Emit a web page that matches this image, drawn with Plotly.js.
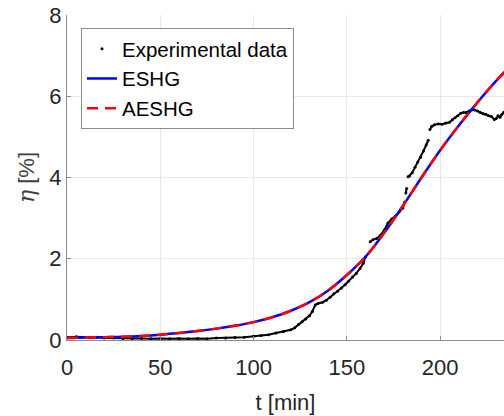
<!DOCTYPE html>
<html>
<head>
<meta charset="utf-8">
<script src="https://cdn.plot.ly/plotly-3.0.1.min.js"></script>
<style>html,body{margin:0;padding:0;background:#fff;}#chart{width:504px;height:416px;}</style>
</head>
<body>
<div id="chart"></div>
<script>
// Experimental data (null = gap in the recorded series)
const tExp = [0,2,5,8,12,16,20,25,30,35,40,45,50,55,60,65,70,75,80,85,90,95,100,104,108,112,116,120,122,124,126,128,130,131.5,133,134.5,137,139,141,143,145,147,149,151,153,155,157,158.8,160,
  161,162.5,164,166,168,170,172,174,176,178,180,181,181.3,181.6,182,182.4,182.8,183.5,185,186.5,188,189.5,191,192.5,193.6,194,
  194.5,195.5,197,199,201,203,205,206.5,208,209.5,211,212.5,214,215.5,217,218.5,220,221.5,223,224.5,226,227.5,229,230,231,232,233,234,235];
const etaExp = [0.07,0.06,0.08,0.07,0.06,0.07,0.05,0.05,0.04,0.04,0.04,0.03,0.04,0.03,0.04,0.03,0.04,0.03,0.05,0.05,0.06,0.07,0.09,0.11,0.13,0.17,0.21,0.25,0.3,0.38,0.45,0.52,0.6,0.7,0.86,0.9,0.93,0.98,1.05,1.14,1.2,1.28,1.36,1.45,1.55,1.64,1.76,1.89,2.05,
  null,2.42,2.47,2.5,2.58,2.7,2.88,2.98,3.05,3.15,3.25,3.4,null,3.62,3.73,null,4.02,4.04,4.12,4.25,4.38,4.5,4.65,4.8,4.92,null,
  5.18,5.26,5.3,5.32,5.31,5.34,5.36,5.42,5.47,5.52,5.58,5.6,5.6,5.64,5.67,5.66,5.64,5.6,5.57,5.56,5.52,5.5,5.43,5.45,5.52,5.48,5.55,5.6,5.65];

// Model curves
const tModel = [0,10,20,30,40,50,60,70,80,90,100,110,120,130,140,150,160,170,180,190,200,210,220,230,240];
const etaESHG = [0.05,0.06,0.07,0.08,0.10,0.13,0.17,0.22,0.28,0.35,0.44,0.56,0.72,0.93,1.22,1.60,2.05,2.64,3.30,4.00,4.67,5.28,5.85,6.38,6.85];
const etaAESHG = [0.05,0.06,0.07,0.08,0.10,0.13,0.17,0.22,0.28,0.35,0.44,0.56,0.72,0.93,1.22,1.60,2.05,2.64,3.30,4.00,4.67,5.28,5.85,6.38,6.85];

const xTicks = [0,50,100,150,200];
const yTicks = [0,2,4,6,8];

const FONT = 'Liberation Sans, Arial, Helvetica, sans-serif';
const TXT = '#262626';

const traces = [
  {x: tExp, y: etaExp, mode: 'lines', line: {color: '#000', width: 2}, connectgaps: false, showlegend: false, hoverinfo: 'skip'},
  {x: tExp, y: etaExp, mode: 'markers', name: 'Experimental data', marker: {color: '#000', size: 3}},
  {x: tModel, y: etaESHG, mode: 'lines', name: 'ESHG', line: {color: '#0000ff', width: 2.5, shape: 'spline'}},
  {x: tModel, y: etaAESHG, mode: 'lines', name: 'AESHG', line: {color: '#ff0000', width: 2.5, dash: '11px,7px', shape: 'spline'}}
];

const layout = {
  width: 504, height: 416,
  margin: {l: 67, r: 0, t: 15, b: 76},
  paper_bgcolor: '#fff', plot_bgcolor: '#fff',
  font: {family: FONT, size: 22, color: TXT},
  showlegend: true,
  legend: {x: 0.032, y: 0.96, xanchor: 'left', yanchor: 'top', bgcolor: '#fff', bordercolor: '#8c8c8c', borderwidth: 1, font: {family: FONT, size: 20.5, color: '#000'}, tracegroupgap: 0},
  xaxis: {
    range: [0, 234.2], tickvals: xTicks, ticktext: xTicks.map(String),
    showgrid: true, gridcolor: '#e8e8e8', zeroline: false,
    showline: true, linecolor: '#8c8c8c', linewidth: 1,
    ticks: 'inside', ticklen: 4, tickcolor: '#8c8c8c',
    ticklabelstandoff: 8,
    tickfont: {family: FONT, size: 22, color: TXT},
    title: {text: 't [min]', font: {family: FONT, size: 22, color: TXT}, standoff: 15}
  },
  yaxis: {
    range: [0, 8], tickvals: yTicks, ticktext: yTicks.map(String),
    showgrid: true, gridcolor: '#e8e8e8', zeroline: false,
    showline: true, linecolor: '#8c8c8c', linewidth: 1,
    ticks: 'inside', ticklen: 4, tickcolor: '#8c8c8c',
    tickfont: {family: FONT, size: 22, color: TXT},
    title: {text: '<span style="font-family:DejaVu Serif;font-style:italic">η</span> [%]', font: {family: FONT, size: 22, color: '#404040'}, standoff: 8}
  }
};

Plotly.newPlot('chart', traces, layout, {displayModeBar: false, staticPlot: true});
</script>
</body>
</html>
